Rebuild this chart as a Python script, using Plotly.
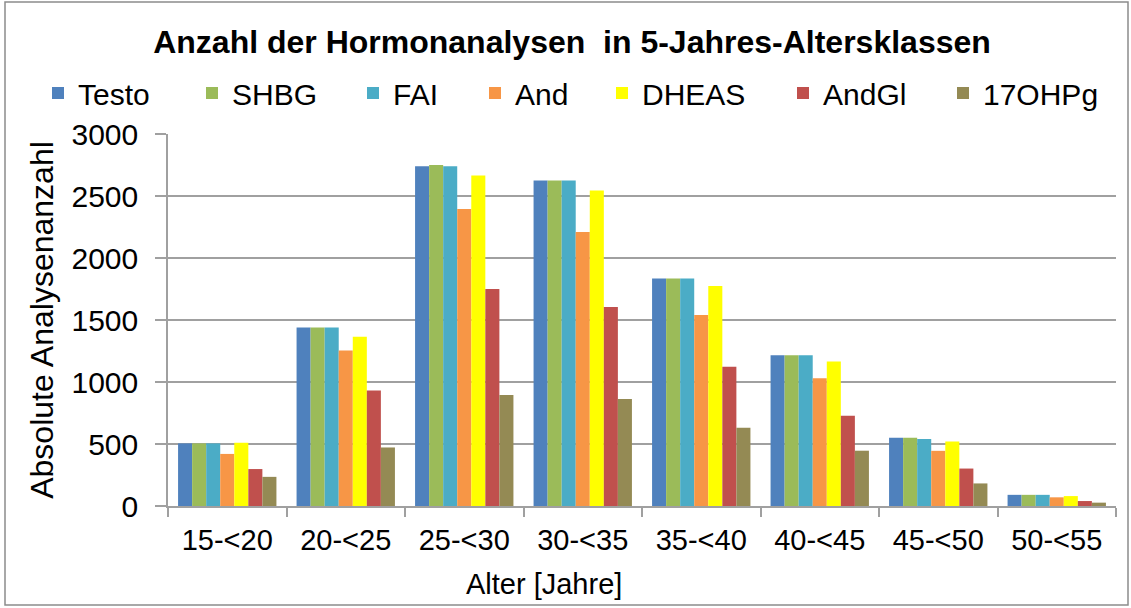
import plotly.graph_objects as go

categories = ["15-<20", "20-<25", "25-<30", "30-<35", "35-<40", "40-<45", "45-<50", "50-<55"]
testo  = [505, 1440, 2740, 2625, 1835, 1215, 550, 90]
shbg   = [505, 1440, 2750, 2625, 1835, 1215, 550, 90]
fai    = [505, 1440, 2740, 2625, 1835, 1215, 540, 90]
andro  = [420, 1255, 2395, 2210, 1540, 1030, 445, 70]
dheas  = [510, 1365, 2665, 2545, 1775, 1165, 520, 80]
andgl  = [298, 932, 1750, 1605, 1122, 728, 302, 40]
ohpg   = [235, 472, 895, 863, 632, 446, 182, 27]

series_names = ["Testo", "SHBG", "FAI", "And", "DHEAS", "AndGl", "17OHPg"]
series_values = [testo, shbg, fai, andro, dheas, andgl, ohpg]
colors = ["#4F81BD", "#9BBB59", "#4BACC6", "#F79646", "#FFFF00", "#C0504D", "#948A54"]
# legend symbol centres (px from the left edge) as in the reference
legend_centers = [61, 215, 376, 498, 625, 806, 966]

FONT = "Liberation Sans, Arial, sans-serif"
W, H = 1131, 608
L, R, T, B = 168, 15, 134, 102
PW, PH = W - L - R, H - T - B

fig = go.Figure()
legend_layouts = {}
for i, (name, vals, col, cx) in enumerate(zip(series_names, series_values, colors, legend_centers)):
    key = "legend" if i == 0 else f"legend{i + 1}"
    fig.add_trace(go.Bar(name=name, x=categories, y=vals, marker_color=col,
                         marker_line_width=0, legend=key,
                         hovertemplate=name + ": %{y}<extra></extra>"))
    legend_layouts[key] = dict(orientation="h", x=(cx - 23) / W, xanchor="left", xref="container",
                               y=1 - 93 / H, yanchor="middle", yref="container",
                               font=dict(size=30, family=FONT), bgcolor="rgba(0,0,0,0)")

fig.update_layout(
    width=W, height=H,
    paper_bgcolor="white", plot_bgcolor="white",
    barmode="group", bargap=0.17, bargroupgap=0,
    margin=dict(l=L, r=R, t=T, b=B, autoexpand=False),
    font=dict(family=FONT, color="#000000", size=29),
    title=dict(text="<b>Anzahl der Hormonanalysen  in 5-Jahres-Altersklassen</b>",
               x=572 / W, xanchor="center", xref="container",
               y=1 - 42 / H, yanchor="middle", yref="container",
               font=dict(size=32, family=FONT)),
    showlegend=True,
    **legend_layouts,
)
fig.update_xaxes(
    automargin=False,
    showline=True, linecolor="#A0A0A0", linewidth=1.5,
    ticks="outside", tickson="boundaries", ticklen=9, tickcolor="#A0A0A0", tickwidth=1.5,
    ticklabelstandoff=7,
    tickfont=dict(size=29),
)
fig.update_yaxes(
    automargin=False,
    range=[0, 3000], dtick=500,
    showline=True, linecolor="#A0A0A0", linewidth=1.5,
    showgrid=True, gridcolor="#A0A0A0", gridwidth=1.5,
    ticks="outside", ticklen=11, tickcolor="#A0A0A0", tickwidth=1.5,
    ticklabelstandoff=11,
    tickfont=dict(size=30),
    title=dict(text="Absolute Analysenanzahl", font=dict(size=32), standoff=8),
    zeroline=False,
)
# x axis title placed as in the reference (left of the plot centre)
fig.add_annotation(text="Alter [Jahre]", xref="paper", yref="paper",
                   x=(544 - L) / PW, y=-(584 - (H - B)) / PH,
                   xanchor="center", yanchor="middle", showarrow=False,
                   font=dict(size=29, family=FONT))
# outer chart border
fig.add_shape(type="rect", xref="paper", yref="paper",
              x0=(5 - L) / PW, x1=1 + (1128 - (W - R)) / PW,
              y0=-(605 - (H - B)) / PH, y1=1 + (T - 2) / PH,
              line=dict(color="#8C8C8C", width=1.5), fillcolor="rgba(0,0,0,0)", layer="below")

fig.write_html("out.html", config={"displayModeBar": False},
               post_script="document.body.style.margin='0';")
